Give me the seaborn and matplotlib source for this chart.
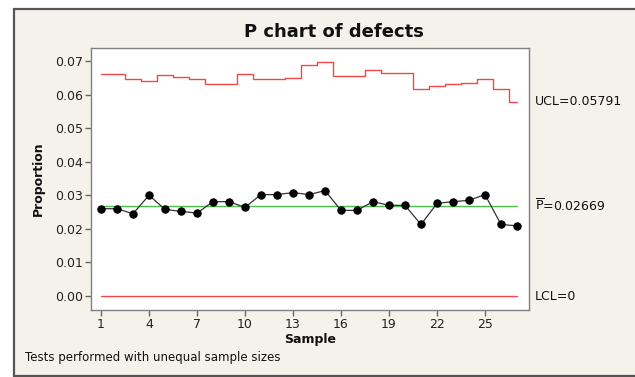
import matplotlib
matplotlib.use("Agg")
import matplotlib.pyplot as plt
from matplotlib.patches import Rectangle
import seaborn as sns
import numpy as np
import pandas as pd

samples = list(range(1, 28))
proportion = [0.0260, 0.0260, 0.0245, 0.0300, 0.0258, 0.0252, 0.0247, 0.0281, 0.0281,
              0.0264, 0.0302, 0.0302, 0.0308, 0.0302, 0.0314, 0.0255, 0.0255, 0.0281,
              0.0270, 0.0270, 0.0213, 0.0276, 0.0281, 0.0285, 0.0302, 0.0213, 0.0209]
ucl = [0.0660, 0.0660, 0.0645, 0.0641, 0.0657, 0.0651, 0.0647, 0.0630, 0.0630,
       0.0662, 0.0645, 0.0645, 0.0648, 0.0689, 0.0697, 0.0654, 0.0654, 0.0674,
       0.0665, 0.0665, 0.0618, 0.0627, 0.0631, 0.0634, 0.0645, 0.0618, 0.05791]
pbar = 0.02669
lcl = 0.0
xticks = [1, 4, 7, 10, 13, 16, 19, 22, 25]
yticks = [0.00, 0.01, 0.02, 0.03, 0.04, 0.05, 0.06, 0.07]

df = pd.DataFrame({"Sample": samples, "Proportion": proportion, "UCL": ucl,
                   "Center": [pbar] * len(samples), "LCL": [lcl] * len(samples)})

sns.set_theme(style="white")
plt.rcParams['font.family'] = ['DejaVu Sans']

W, H = 635, 377
fig = plt.figure(figsize=(W / 100, H / 100), dpi=100)
fig.patch.set_facecolor("white")
bg = Rectangle((14 / W, 1 - 376 / H), 1.0, (376 - 9) / H, transform=fig.transFigure,
               facecolor="#f5f2ec", edgecolor="#555555", linewidth=1.6, zorder=-10)
fig.patches.append(bg)

ax = fig.add_axes([91 / W, 1 - 310 / H, (529 - 91) / W, (310 - 48) / H])
ax.set_facecolor("white")

red = "#f04848"
sns.lineplot(data=df, x="Sample", y="UCL", drawstyle="steps-mid", color=red, linewidth=1.0, ax=ax)
sns.lineplot(data=df, x="Sample", y="LCL", color=red, linewidth=1.0, ax=ax)
sns.lineplot(data=df, x="Sample", y="Center", color="#4cc04c", linewidth=1.0, ax=ax)
sns.lineplot(data=df, x="Sample", y="Proportion", color="#333333", linewidth=0.9,
             marker="o", markersize=5.3, markerfacecolor="black", markeredgecolor="black", ax=ax)

ax.set_xlim(0.375, 27.75)
ax.set_ylim(-0.00417, 0.07387)
ax.set_xticks(xticks)
ax.set_xticklabels([str(t) for t in xticks])
ax.set_yticks(yticks)
ax.set_yticklabels([f"{t:.2f}" for t in yticks])
ax.tick_params(axis="both", which="major", direction="out", length=4, width=1,
               color="#666666", labelsize=9, labelcolor="#222222", pad=2,
               bottom=True, left=True)
for s in ax.spines.values():
    s.set_color("#808080")
    s.set_linewidth(1.0)

ax.set_xlabel("Sample", fontsize=9, fontweight="bold", labelpad=1, color="#111111")
ax.set_ylabel("Proportion", fontsize=9, fontweight="bold", labelpad=7, color="#111111")

fig.text(334 / W, 1 - 32 / H, "P chart of defects", ha="center", va="center",
         fontsize=13, fontweight="bold", color="#111111")
fig.text(25 / W, 1 - 357 / H, "Tests performed with unequal sample sizes",
         ha="left", va="center", fontsize=8.5, color="#111111")

ax.text(1.013, ucl[-1], "UCL=0.05791", transform=ax.get_yaxis_transform(),
        ha="left", va="center", fontsize=9, color="#111111")
ax.text(1.013, pbar, r"$\overline{\mathrm{P}}$=0.02669", transform=ax.get_yaxis_transform(),
        ha="left", va="center", fontsize=9, color="#111111")
ax.text(1.013, lcl, "LCL=0", transform=ax.get_yaxis_transform(),
        ha="left", va="center", fontsize=9, color="#111111")

fig.savefig("out.png", dpi=100)
